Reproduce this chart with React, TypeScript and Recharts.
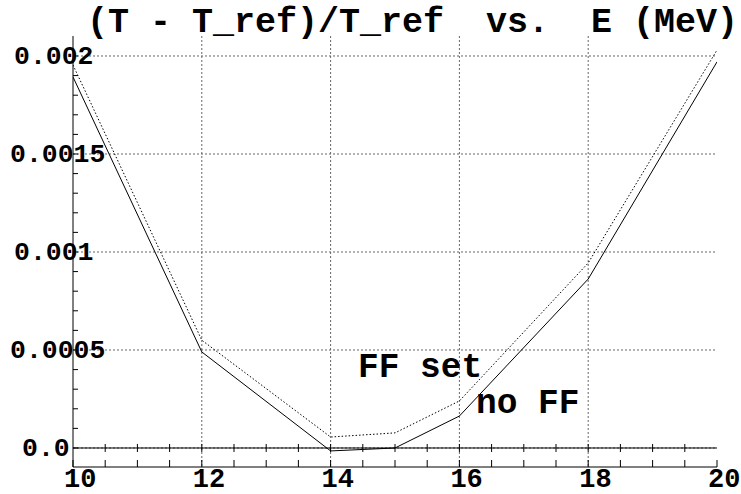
import { ComposedChart, Line, Scatter, XAxis, YAxis, CartesianGrid, ReferenceLine } from "recharts";

const energies = [10, 12, 14, 15, 16, 18, 20];
const noFF = [0.001893, 0.00049, -0.000015, 0.0, 0.000163, 0.000862, 0.00197];
const ffSet = [0.001954, 0.00055, 0.000056, 0.000077, 0.00024, 0.000944, 0.00203];

const xTicks = [10, 10.5, 11, 11.5, 12, 12.5, 13, 13.5, 14, 14.5, 15, 15.5, 16, 16.5, 17, 17.5, 18, 18.5, 19, 19.5, 20];
const xLabels = [10, 12, 14, 16, 18, 20];
const xGrid = [12, 14, 16, 18];
const zeroTickX = [10.5, 11, 11.5, 12, 12.5, 13, 13.5, 14, 14.5, 15, 15.5, 16, 16.5, 17, 17.5, 18, 18.5, 19, 19.5];

const yTicks = [0, 0.0001, 0.0002, 0.0003, 0.0004, 0.0005, 0.0006, 0.0007, 0.0008, 0.0009, 0.001, 0.0011, 0.0012, 0.0013, 0.0014, 0.0015, 0.0016, 0.0017, 0.0018, 0.0019, 0.002];
const yMajor = [0, 0.0005, 0.001, 0.0015, 0.002];
const yLabelText = ["0.0", "0.0005", "0.001", "0.0015", "0.002"];

const X_DOMAIN: [number, number] = [10, 20];
const Y_DOMAIN: [number, number] = [-0.000097, 0.002102];

const mono = '"Liberation Mono", "Courier New", monospace';

const noFFData = energies.map((x, i) => ({ x, y: noFF[i] }));
const ffSetData = energies.map((x, i) => ({ x, y: ffSet[i] }));
const zeroTicks = zeroTickX.map((x) => ({ x, y: 0 }));

function XLabel(props: any) {
  const { x, y, payload } = props;
  if (!xLabels.includes(payload.value)) return null;
  return (
    <text x={x - 9} y={y + 27} fontFamily={mono} fontWeight="bold" fontSize={27} fill="#000" textAnchor="start">
      {String(payload.value)}
    </text>
  );
}

function YLabel(props: any) {
  const { y, payload } = props;
  const i = yMajor.indexOf(payload.value);
  if (i < 0) return null;
  const s = yLabelText[i];
  return (
    <text x={34 - 4 * s.length} y={y + 8} fontFamily={mono} fontWeight="bold" fontSize={26.5} fill="#000" textAnchor="start">
      {s}
    </text>
  );
}

const zeroTick = (p: any) => <line x1={p.cx} x2={p.cx} y1={p.cy - 4} y2={p.cy + 4} stroke="#000" strokeWidth={1} />;

export default function App() {
  return (
    <div style={{ position: "absolute", left: 0, top: 0, width: 741, height: 494, background: "#fff" }}>
      <ComposedChart width={741} height={494} margin={{ top: 36, right: 24, bottom: 0, left: 0 }}>
        <CartesianGrid
          xAxisId="bottom"
          yAxisId="left"
          verticalValues={xGrid}
          horizontalValues={yMajor}
          stroke="#666"
          strokeDasharray="2 2"
        />
        <XAxis
          xAxisId="bottom"
          type="number"
          dataKey="x"
          domain={X_DOMAIN}
          ticks={xTicks}
          interval={0}
          allowDataOverflow
          height={27}
          tickSize={-7}
          tickMargin={0}
          stroke="#000"
          tick={XLabel}
        />
        <XAxis
          xAxisId="top"
          orientation="top"
          type="number"
          dataKey="x"
          domain={X_DOMAIN}
          ticks={xTicks}
          interval={0}
          allowDataOverflow
          height={0}
          tickSize={-6}
          stroke="#000"
          tick={false}
        />
        <YAxis
          yAxisId="left"
          type="number"
          domain={Y_DOMAIN}
          ticks={yTicks}
          interval={0}
          allowDataOverflow
          width={73}
          tickSize={-5}
          tickMargin={0}
          stroke="#000"
          tick={YLabel}
        />
        <YAxis
          yAxisId="right"
          orientation="right"
          type="number"
          domain={Y_DOMAIN}
          ticks={yTicks}
          interval={0}
          allowDataOverflow
          width={0}
          tickSize={-5}
          stroke="#000"
          tick={false}
        />
        <ReferenceLine xAxisId="bottom" yAxisId="left" y={0} stroke="#000" strokeWidth={1} />
        <Scatter
          xAxisId="bottom"
          yAxisId="left"
          data={zeroTicks}
          dataKey="y"
          shape={zeroTick}
          isAnimationActive={false}
        />
        <Line
          xAxisId="bottom"
          yAxisId="left"
          data={ffSetData}
          dataKey="y"
          type="linear"
          stroke="#000"
          strokeWidth={1}
          strokeDasharray="1.5 2"
          dot={false}
          isAnimationActive={false}
        />
        <Line
          xAxisId="bottom"
          yAxisId="left"
          data={noFFData}
          dataKey="y"
          type="linear"
          stroke="#000"
          strokeWidth={1}
          dot={false}
          isAnimationActive={false}
        />
      </ComposedChart>
      <svg width={741} height={494} style={{ position: "absolute", left: 0, top: 0, pointerEvents: "none" }}>
        <text x={87} y={32} fontFamily={mono} fontWeight="bold" fontSize={35} fill="#000" xmlSpace="preserve">
          (T - T_ref)/T_ref  vs.  E (MeV)
        </text>
        <text x={358} y={377} fontFamily={mono} fontWeight="bold" fontSize={34.5} fill="#000" xmlSpace="preserve">
          FF set
        </text>
        <text x={476} y={413} fontFamily={mono} fontWeight="bold" fontSize={34.5} fill="#000" xmlSpace="preserve">
          no FF
        </text>
      </svg>
    </div>
  );
}
